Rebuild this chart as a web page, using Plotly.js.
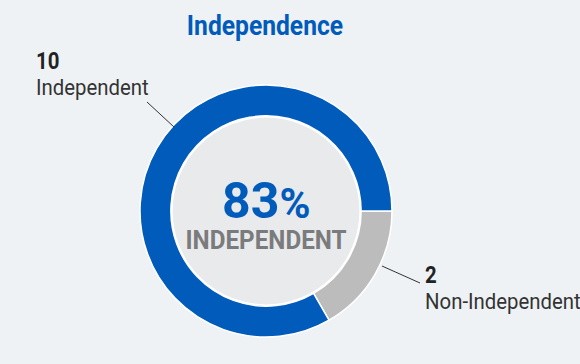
<!DOCTYPE html>
<html><head><meta charset="utf-8">
<script src="https://cdn.plot.ly/plotly-3.0.1.min.js"></script>
<style>html,body{margin:0;padding:0;background:#eff2f5;}#chart{width:580px;height:364px;}</style>
</head><body><div id="chart"></div>
<script>
const categories = ["Non-Independent", "Independent"];
const counts = [2, 10];
const sliceColors = ["#bcbcbc", "#005bbb"];
const titleText = "Independence";
const centerLabel = "INDEPENDENT";

const W = 580, H = 364;
const px = x => x / W;
const py = y => 1 - y / H;
const F = "Roboto, 'Liberation Sans', sans-serif";

const total = counts.reduce((a, b) => a + b, 0);
const pct = Math.round(100 * counts[1] / total);

const cx = 266, cy = 211, R = 126, hole = 0.755;
const rIn = R * hole - 1;

const data = [{
  type: "pie",
  labels: categories,
  values: counts,
  hole: hole,
  sort: false,
  direction: "clockwise",
  rotation: 90,
  textinfo: "none",
  hoverinfo: "label+value",
  marker: {colors: sliceColors, line: {color: "#ffffff", width: 1.5}},
  domain: {x: [px(cx - R), px(cx + R)], y: [py(cy + R), py(cy - R)]},
  showlegend: false
}];

// horizontal condensing factor per annotation (index -> factor)
const condense = [1.0, 0.97, 0.85, 0.885, 0.85, 0.885];

const layout = {
  width: W, height: H,
  margin: {l: 0, r: 0, t: 0, b: 0},
  paper_bgcolor: "#eff2f5",
  plot_bgcolor: "#eff2f5",
  title: {text: "<b>" + titleText + "</b>", font: {family: F, size: 28, color: "#005bbb"}, x: px(265), xanchor: "center", y: py(25), yanchor: "middle"},
  shapes: [
    {type: "circle", xref: "paper", yref: "paper", x0: px(cx - rIn), x1: px(cx + rIn), y0: py(cy + rIn), y1: py(cy - rIn), fillcolor: "#e9eaec", line: {color: "#ffffff", width: 1.5}, layer: "below"},
    {type: "line", xref: "paper", yref: "paper", x0: px(147), y0: py(102), x1: px(174), y1: py(127), line: {color: "#333333", width: 1}},
    {type: "line", xref: "paper", yref: "paper", x0: px(382), y0: py(266), x1: px(420), y1: py(283), line: {color: "#333333", width: 1}}
  ],
  annotations: [
    {xref: "paper", yref: "paper", x: px(cx), y: py(201), text: "<b>" + pct + "</b><b style='font-size:42px'>%</b>", showarrow: false, xanchor: "center", yanchor: "middle", font: {family: F, size: 50, color: "#005bbb"}},
    {xref: "paper", yref: "paper", x: px(cx), y: py(240), text: "<b>" + centerLabel + "</b>", showarrow: false, xanchor: "center", yanchor: "middle", font: {family: F, size: 25, color: "#7a7b7d"}},
    {xref: "paper", yref: "paper", x: px(34), y: py(61), text: "<b>" + counts[1] + "</b>", showarrow: false, xanchor: "left", yanchor: "middle", font: {family: F, size: 24, color: "#222222"}},
    {xref: "paper", yref: "paper", x: px(34), y: py(87), text: categories[1], showarrow: false, xanchor: "left", yanchor: "middle", font: {family: F, size: 23, color: "#333333"}},
    {xref: "paper", yref: "paper", x: px(423), y: py(275), text: "<b>" + counts[0] + "</b>", showarrow: false, xanchor: "left", yanchor: "middle", font: {family: F, size: 24, color: "#222222"}},
    {xref: "paper", yref: "paper", x: px(423), y: py(301), text: categories[0], showarrow: false, xanchor: "left", yanchor: "middle", font: {family: F, size: 23, color: "#333333"}}
  ]
};

function squeeze(el, s, anchor) {
  const bb = el.getBBox();
  const ax = anchor === "left" ? bb.x : bb.x + bb.width / 2;
  const prev = el.getAttribute("transform") || "";
  el.setAttribute("transform", prev + " translate(" + ax + ",0) scale(" + s + ",1) translate(" + (-ax) + ",0)");
}

Plotly.newPlot("chart", data, layout, {displayModeBar: false, staticPlot: true}).then(gd => {
  const t = gd.querySelector(".gtitle");
  if (t) squeeze(t, 0.88, "center");
  gd.querySelectorAll("g.annotation").forEach((g, i) => {
    const txt = g.querySelector("text");
    if (txt && condense[i] !== 1) squeeze(txt, condense[i], layout.annotations[i].xanchor);
  });
});
</script></body></html>
